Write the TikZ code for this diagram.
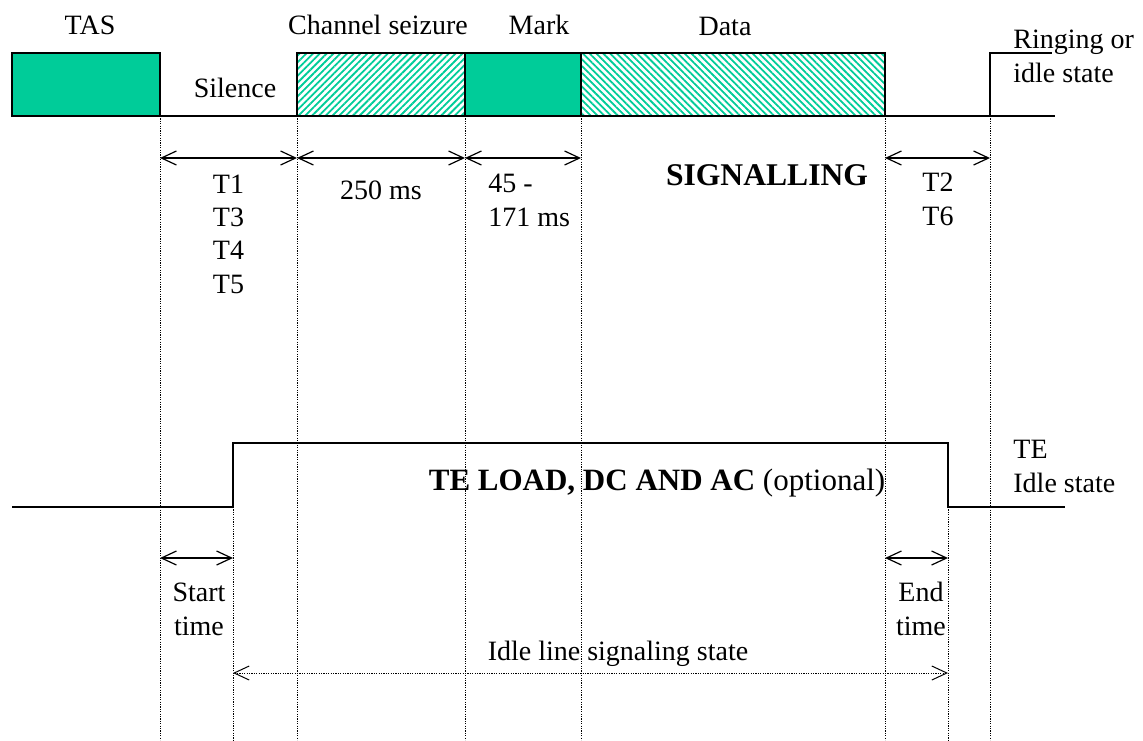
\documentclass[tikz,border=0pt]{standalone}
\usepackage{fontspec}
\setmainfont{Liberation Serif}
\usetikzlibrary{arrows.meta}
\usetikzlibrary{patterns.meta}
\definecolor{sigteal}{RGB}{0,204,153}

\tikzset{
	burst/.style={draw=black, line width=0.7pt},
	dimline/.style={{Straight Barb[length=7.5pt,width=7pt]}-{Straight Barb[length=7.5pt,width=7pt]}, line width=0.6pt},
	guide/.style={line width=0.5pt, dash pattern=on 0.6pt off 0.6pt},
	lbl/.style={inner sep=0pt, anchor=base, font=\fontsize{14}{16.6}\selectfont},
	big/.style={inner sep=0pt, anchor=base, font=\fontsize{15.8}{18}\selectfont\bfseries},
}

\newcommand{\guideline}[2] % name of time mark, y where the dots start
{
	\draw[guide] (#1 |- 0,#2) -- (#1 |- 0,740);
}

\begin{document}
\begin{tikzpicture}[x=0.5pt, y=-0.5pt]
	% 1143 x 740, one unit is one pixel
	\useasboundingbox (0,0) rectangle (1143,740);
	
	% time marks
	\coordinate (t0) at (12,116);
	\coordinate (t1) at (160,116);
	\coordinate (ts) at (233,116);
	\coordinate (t2) at (297,116);
	\coordinate (t3) at (465,116);
	\coordinate (t4) at (581,116);
	\coordinate (t5) at (885,116);
	\coordinate (te) at (948,116);
	\coordinate (t6) at (990,116);
	
	% signalling line
	\draw[burst, fill=sigteal] (t0) rectangle (t1 |- 0,53);
	\draw[burst, pattern={Lines[angle=45,distance=2.4pt,line width=0.9pt]}, pattern color=sigteal] (t2) rectangle (t3 |- 0,53);
	\draw[burst, fill=sigteal] (t3) rectangle (t4 |- 0,53);
	\draw[burst, pattern={Lines[angle=-45,distance=2.4pt,line width=0.9pt]}, pattern color=sigteal] (t4) rectangle (t5 |- 0,53);
	\draw[burst] (t0) -- (1055,116);
	\draw[burst] (t6) -- (t6 |- 0,53) -- (1052,53);
	
	% TE load line
	\coordinate (lo0) at (12,507);
	\coordinate (lo1) at (1065,507);
	\draw[burst] (lo0) -- (ts |- lo0) -- (ts |- 0,443) -- (te |- 0,443) -- (te |- lo0) -- (lo1);
	
	% dotted guides
	\guideline{t1}{116}
	\guideline{t2}{116}
	\guideline{t3}{116}
	\guideline{t4}{116}
	\guideline{t5}{116}
	\guideline{t6}{116}
	\guideline{ts}{507}
	\guideline{te}{507}
	
	% time spans
	\draw[dimline] (t1 |- 0,158) -- (t2 |- 0,158);
	\draw[dimline] (t2 |- 0,158) -- (t3 |- 0,158);
	\draw[dimline] (t3 |- 0,158) -- (t4 |- 0,158);
	\draw[dimline] (t5 |- 0,158) -- (t6 |- 0,158);
	\draw[dimline] (t1 |- 0,558) -- (ts |- 0,558);
	\draw[dimline] (t5 |- 0,558) -- (te |- 0,558);
	\draw[dimline, guide] (ts |- 0,673) -- (te |- 0,673);
	
	% labels (multi-line ones sit on their last line)
	\node[lbl] (tas) at (90,34) {TAS};
	\node[lbl] (silence) at (235,97) {Silence};
	\node[lbl] (seize) at (378,34) {Channel seizure};
	\node[lbl] (mark) at (539,34) {Mark};
	\node[lbl] (data) at (725,35) {Data};
	\node[lbl, anchor=base west, align=left] (ring) at (1013,82) {Ringing or\\idle state};
	\node[lbl, align=center] (tsil) at (228.5,293) {T1\\T3\\T4\\T5};
	\node[lbl] (tcs) at (381,199) {250 ms};
	\node[lbl, anchor=base west, align=left] (tmark) at (488,226) {45 -\\171 ms};
	\node[big] (sig) at (767,185) {SIGNALLING};
	\node[lbl, align=center] (tend) at (938,225) {T2\\T6};
	\node[big, font=\fontsize{15.5}{18}\selectfont] (load) at (657,490) {\textbf{TE LOAD, DC AND AC} (optional)};
	\node[lbl, anchor=base west, align=left] (teidle) at (1013,492) {TE\\Idle state};
	\node[lbl, align=center] (start) at (199,635) {Start\\time};
	\node[lbl, align=center] (endt) at (921,635) {End\\time};
	\node[lbl] (idle) at (618,660) {Idle line signaling state};
	
\end{tikzpicture}
\end{document}
